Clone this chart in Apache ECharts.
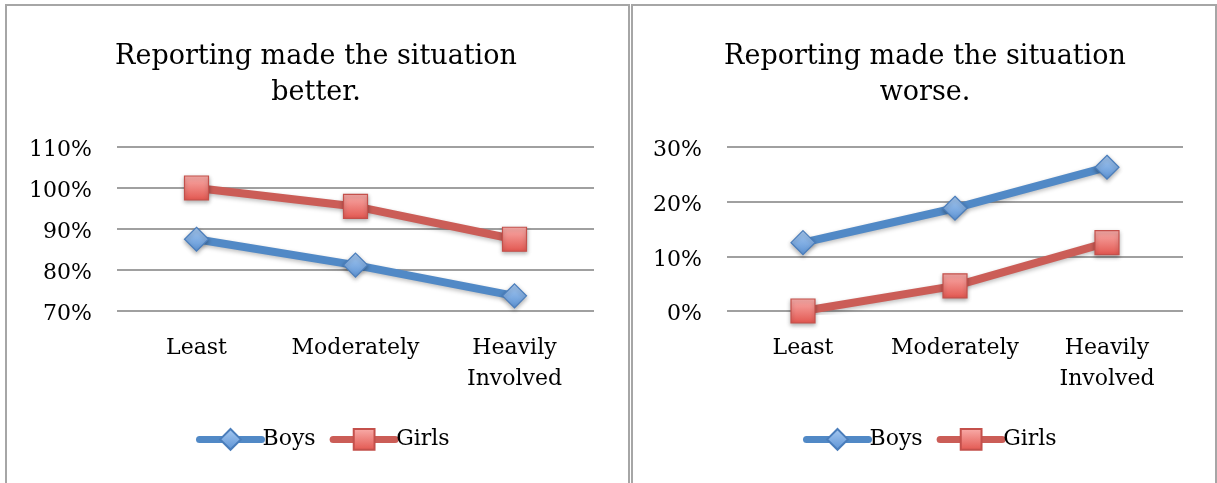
<!DOCTYPE html>
<html>
<head>
<meta charset="utf-8">
<script src="https://cdn.jsdelivr.net/npm/echarts@6/dist/echarts.min.js"></script>
<style>
  html, body { margin: 0; padding: 0; background: #fff; }
  #chart { width: 1217px; height: 483px; }
</style>
</head>
<body>
<div id="chart"></div>
<script>
// Involvement levels shared by both panels
const categories = ['Least', 'Moderately', 'Heavily\nInvolved'];
const seriesNames = ['Boys', 'Girls'];

// "Reporting made the situation better." (percent)
const betterBoys = [87.5, 81.2, 73.7];
const betterGirls = [100, 95.5, 87.5];
const betterTicks = { min: 70, max: 110, interval: 10 };

// "Reporting made the situation worse." (percent)
const worseBoys = [12.5, 18.8, 26.3];
const worseGirls = [0, 4.6, 12.5];
const worseTicks = { min: 0, max: 30, interval: 10 };

const titles = ['Reporting made the situation\nbetter.', 'Reporting made the situation\nworse.'];

const FONT = 'DejaVu Serif';
const BLUE = '#5189c6';
const RED = '#cb5d57';

const blueFill = new echarts.graphic.LinearGradient(0, 0, 0, 1, [
  { offset: 0, color: '#a9cbf2' },
  { offset: 1, color: '#5b92d4' }
]);
const redFill = new echarts.graphic.LinearGradient(0, 0, 0, 1, [
  { offset: 0, color: '#f9aeab' },
  { offset: 1, color: '#e2564f' }
]);

function lineSeries(name, data, idx) {
  const isBoys = name === 'Boys';
  return {
    name: name,
    type: 'line',
    xAxisIndex: idx,
    yAxisIndex: idx,
    data: data,
    symbol: isBoys ? 'diamond' : 'rect',
    symbolSize: 24,
    lineStyle: {
      color: isBoys ? BLUE : RED,
      width: 8,
      shadowColor: 'rgba(0,0,0,0.25)',
      shadowBlur: 4,
      shadowOffsetY: 2
    },
    itemStyle: {
      color: isBoys ? blueFill : redFill,
      borderColor: isBoys ? '#4a7dbb' : '#c4504b',
      borderWidth: 1.2,
      shadowColor: 'rgba(0,0,0,0.3)',
      shadowBlur: 4,
      shadowOffsetY: 2
    },
    emphasis: { disabled: true },
    animation: false,
    z: isBoys ? 3 : 2
  };
}

function yAxis(idx, ticks) {
  return {
    type: 'value',
    gridIndex: idx,
    min: ticks.min,
    max: ticks.max,
    interval: ticks.interval,
    axisLine: { show: false },
    axisTick: { show: false },
    axisLabel: {
      formatter: v => '{v|' + v + '%}',
      margin: 25,
      rich: {
        v: {
          fontFamily: FONT,
          fontSize: 22,
          color: '#000',
          lineHeight: 22,
          padding: [7, 0, 0, 0]
        }
      }
    },
    splitLine: { lineStyle: { color: '#a0a0a0', width: 2 } }
  };
}

function xAxis(idx) {
  return {
    type: 'category',
    gridIndex: idx,
    data: categories,
    boundaryGap: true,
    axisLine: { show: false },
    axisTick: { show: false },
    axisLabel: {
      fontFamily: FONT,
      fontSize: 22,
      color: '#000',
      lineHeight: 31,
      margin: 22,
      interval: 0
    }
  };
}

function legend(left) {
  return {
    data: seriesNames.map(n => ({ name: n })),
    left: left,
    top: 428,
    padding: 0,
    itemWidth: 62,
    itemHeight: 26,
    itemGap: 14,
    selectedMode: false,
    lineStyle: { width: 7, cap: 'round' },
    textStyle: { fontFamily: FONT, fontSize: 22, color: '#000', padding: [0, 0, 0, -4] }
  };
}

const chart = echarts.init(document.getElementById('chart'), null, { renderer: 'canvas' });

chart.setOption({
  animation: false,
  backgroundColor: '#fff',
  graphic: [
    { type: 'rect', shape: { x: 6, y: 5, width: 623, height: 500 },
      style: { fill: 'none', stroke: '#a6a6a6', lineWidth: 2 }, silent: true },
    { type: 'rect', shape: { x: 632, y: 5, width: 584, height: 500 },
      style: { fill: 'none', stroke: '#a6a6a6', lineWidth: 2 }, silent: true }
  ],
  title: [
    { text: titles[0], left: 311, textAlign: 'center', top: 34,
      textStyle: { fontFamily: FONT, fontSize: 27, fontWeight: 'normal', color: '#000', lineHeight: 36 } },
    { text: titles[1], left: 920, textAlign: 'center', top: 34,
      textStyle: { fontFamily: FONT, fontSize: 27, fontWeight: 'normal', color: '#000', lineHeight: 36 } }
  ],
  grid: [
    { left: 117, right: 1217 - 594, top: 147, bottom: 483 - 311, containLabel: false },
    { left: 727, right: 1217 - 1183, top: 147, bottom: 483 - 311, containLabel: false }
  ],
  xAxis: [xAxis(0), xAxis(1)],
  yAxis: [yAxis(0, betterTicks), yAxis(1, worseTicks)],
  legend: [legend(196), legend(803)],
  series: [
    lineSeries('Boys', betterBoys, 0),
    lineSeries('Girls', betterGirls, 0),
    lineSeries('Boys', worseBoys, 1),
    lineSeries('Girls', worseGirls, 1)
  ]
});
</script>
</body>
</html>
